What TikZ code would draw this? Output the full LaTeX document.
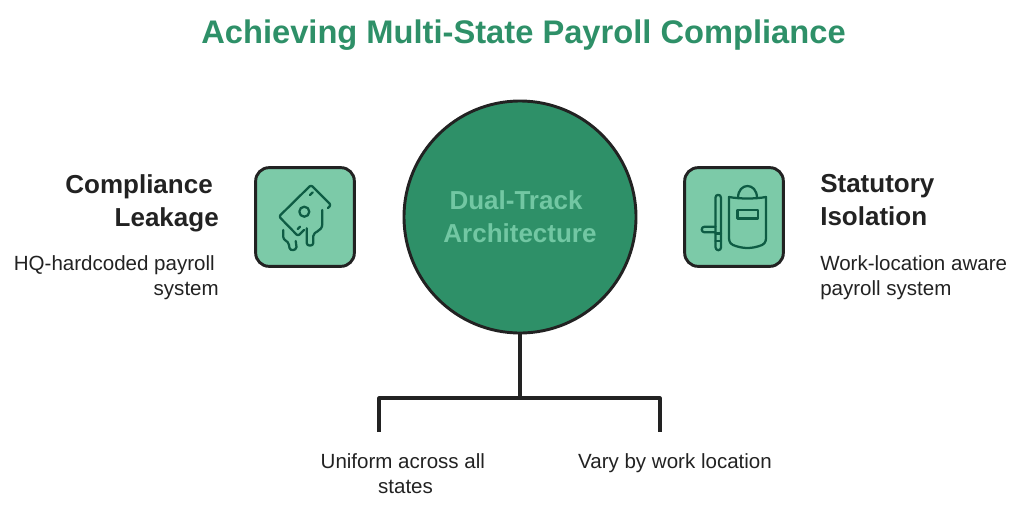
\documentclass[tikz,border=0pt]{standalone}
\usepackage{fontspec}
\setmainfont{Liberation Sans}
\usetikzlibrary{calc}
\definecolor{hubgreen}{HTML}{2E9068}
\definecolor{boxgreen}{HTML}{7CCAA8}
\definecolor{inkgreen}{HTML}{0E5C44}
\definecolor{hubtext}{HTML}{72C7A3}
\definecolor{ink}{HTML}{222222}
\tikzset{
	hub/.style={circle, draw=ink, fill=hubgreen, line width=2.2pt, minimum size=174pt, inner sep=0pt, align=center, text=hubtext, font=\fontsize{19.5}{24.5}\selectfont\bfseries},
	iconbox/.style={rectangle, rounded corners=10pt, draw=ink, fill=boxgreen, line width=2.2pt, minimum size=74pt, inner sep=0pt},
	head/.style={text=ink, font=\fontsize{19.5}{25}\selectfont\bfseries, inner sep=0pt},
	note/.style={text=ink, font=\fontsize{15.4}{18.7}\selectfont, inner sep=0pt},
	wire/.style={draw=ink, line width=2.28pt},
	glyph/.style={draw=inkgreen, line width=1.7pt, line cap=round, line join=round},
}
\begin{document}
\begin{tikzpicture}[x=0.75pt,y=-0.75pt]
\useasboundingbox (0,0) rectangle (1024,511);

\node (title) at (523.5,35) [text=hubgreen, font=\fontsize{24.5}{30}\selectfont\bfseries, inner sep=0pt]{Achieving Multi-State Payroll Compliance};

\coordinate (bus) at (520,398);
\coordinate (busl) at (379,398);
\coordinate (busr) at (660,398);
\coordinate (endl) at (379,432);
\coordinate (endr) at (660,432);

\node (arch) at (520,217) [hub]{Dual-Track\hspace*{6pt}\\Architecture};
\node (leak) at (305,217) [iconbox]{};
\node (isol) at (734,217) [iconbox]{};

\draw [wire] (arch.south)--(bus);
\draw [wire, line join=round] (endl)--(busl)--(busr)--(endr);

\node (leakhead) [head, align=right, anchor=north east] at (219,174){Compliance\hspace*{4.5pt}\\Leakage};
\node (leaknote) [note, align=right, anchor=north east] at (219,255){HQ-hardcoded payroll\hspace*{3pt}\\system};
\node (isolhead) [head, align=left, anchor=north west] at (820,174){Statutory\\Isolation};
\node (isolnote) [note, align=left, anchor=north west] at (820,255){Work-location aware\\payroll system};
\node (unif) [note, align=center, anchor=north] at (405.5,453.5){Uniform across all\hspace*{4pt}\\states};
\node (vary) [note, anchor=north] at (675,453.5){Vary by work location};

% melting note
\draw [glyph, rounded corners=1.5pt] (328,208) -- (331,205) -- (311,185) -- (279,216.5) -- (298,236) -- (304,230);
\draw [glyph] (310,195) -- (312.7,192.3);
\draw [glyph] (297.7,229) -- (300,226.7);
\draw [glyph] (304.3,211.7) circle (5);
\draw [glyph] (283.3,230) -- (283.3,237) .. controls (283.3,241) and (288,240) .. (289,245) -- (289.5,248) .. controls (290,251) and (296,251) .. (296.5,247) -- (295.7,241);
\draw [glyph] (306.7,228.3) -- (306.7,243) .. controls (306.7,246.5) and (313.3,246.5) .. (313.3,243) -- (313.3,236) .. controls (313.3,231) and (322.3,232) .. (322.3,224) -- (322.3,210);

% baton and shield
\draw [glyph] (715.5,197.5) arc (-180:0:2.7) -- (721,247.5) arc (0:180:2.7) -- cycle;
\draw [glyph] (715.5,233.5) -- (721,233.5);
\draw [glyph] (715.5,241) -- (721,241);
\draw [glyph] (715.5,232.3) -- (704.5,232.3) arc (90:270:2.8) -- (715.5,226.7);
\draw [glyph] (729,197) .. controls (740,199) and (755,199) .. (766,197) -- (766,236) .. controls (766,240) and (766,243) .. (762,245) .. controls (752,249) and (743,249) .. (733,245) .. controls (729,243) and (729,240) .. (729,236) -- cycle;
\draw [glyph] (738,198) .. controls (738,182) and (757,182) .. (757,198);
\draw [glyph] (737.5,210) rectangle (758,218.5);
\end{tikzpicture}
\end{document}
